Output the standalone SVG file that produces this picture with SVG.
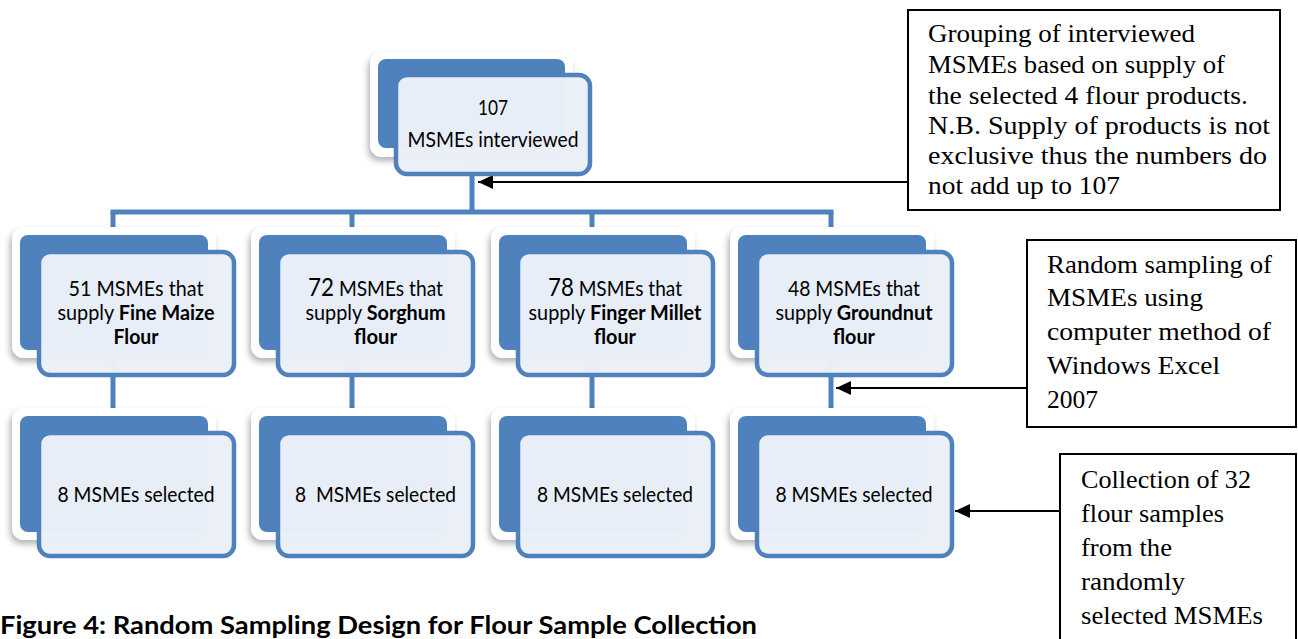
<svg xmlns="http://www.w3.org/2000/svg" width="1298" height="639" viewBox="0 0 1298 639">
<style>
  .outer{fill:#fff;filter:url(#sh)}
  .back{fill:#4F81BD}
  .front{fill:#EBF0F8;fill-opacity:0.985;stroke:#4F81BD;stroke-width:4.5}
  .conn{fill:none;stroke:#4F81BD;stroke-width:5}
  .arr{fill:none;stroke:#000;stroke-width:2;marker-end:url(#ah)}
  .sans{font-family:Lato,"Liberation Sans",sans-serif;font-size:21px;fill:#000;text-anchor:middle}
  .big{font-size:24.5px}
  .b{font-weight:bold}
  .note{fill:#fff;stroke:#000;stroke-width:2}
  .serif{font-family:"Liberation Serif","DejaVu Serif",serif;font-size:26px;fill:#000}
  .cap{font-family:Lato,"Liberation Sans",sans-serif;font-size:24px;font-weight:bold;fill:#000}
</style>
<defs>
  <filter id="sh" x="-20%" y="-20%" width="140%" height="150%">
    <feDropShadow dx="-2" dy="4" stdDeviation="3" flood-color="#000" flood-opacity="0.3"/>
  </filter>
  <marker id="ah" markerUnits="userSpaceOnUse" markerWidth="16" markerHeight="14" refX="15" refY="7" orient="auto">
    <path d="M0,0 L15,7 L0,14 Z" fill="#000"/>
  </marker>
</defs>
<rect width="1298" height="639" fill="#fff"/>

<g id="connectors">
  <path class="conn" d="M472,150 V212"/>
  <path class="conn" d="M110.5,212 H833.5"/>
  <path class="conn" d="M113,212 V232 M352,212 V232 M592,212 V232 M831,212 V232"/>
  <path class="conn" d="M113,350 V412 M352,350 V412 M592,350 V412 M831,350 V412"/>
  <path class="arr" d="M907,182 H478"/>
  <path class="arr" d="M1026,388 H836"/>
  <path class="arr" d="M1059,511 H955"/>
</g>

<g id="n0">
  <rect class="outer" x="370" y="52" width="203" height="105" rx="12"/>
  <rect class="back" x="378" y="59" width="187" height="89" rx="8"/>
  <rect class="front" x="396" y="75" width="194" height="99" rx="11"/>
  <text class="sans" x="493" y="115" textLength="30" lengthAdjust="spacingAndGlyphs">107</text>
  <text class="sans" x="493" y="147" textLength="171" lengthAdjust="spacingAndGlyphs">MSMEs interviewed</text>
</g>

<g id="n1">
  <rect class="outer" x="12" y="227" width="204" height="131" rx="12"/>
  <rect class="back" x="20" y="235" width="188" height="115" rx="8"/>
  <rect class="front" x="39" y="252" width="195" height="123" rx="11"/>
  <text class="sans" x="136" y="296" textLength="135" lengthAdjust="spacingAndGlyphs">51 MSMEs that</text>
  <text class="sans" x="136" y="320" textLength="157" lengthAdjust="spacingAndGlyphs">supply <tspan class="b">Fine Maize</tspan></text>
  <text class="sans b" x="136" y="344" textLength="45" lengthAdjust="spacingAndGlyphs">Flour</text>
</g>
<g id="n2">
  <rect class="outer" x="251" y="227" width="204" height="131" rx="12"/>
  <rect class="back" x="259" y="235" width="188" height="115" rx="8"/>
  <rect class="front" x="278" y="252" width="195" height="123" rx="11"/>
  <text class="sans" x="375.5" y="296" textLength="135" lengthAdjust="spacingAndGlyphs"><tspan class="big">72</tspan> MSMEs that</text>
  <text class="sans" x="375.5" y="320" textLength="140" lengthAdjust="spacingAndGlyphs">supply <tspan class="b">Sorghum</tspan></text>
  <text class="sans b" x="375.5" y="344" textLength="43" lengthAdjust="spacingAndGlyphs">flour</text>
</g>
<g id="n3">
  <rect class="outer" x="491" y="227" width="204" height="131" rx="12"/>
  <rect class="back" x="499" y="235" width="188" height="115" rx="8"/>
  <rect class="front" x="518" y="252" width="195" height="123" rx="11"/>
  <text class="sans" x="615" y="296" textLength="134" lengthAdjust="spacingAndGlyphs"><tspan class="big">78</tspan> MSMEs that</text>
  <text class="sans" x="615" y="320" textLength="173" lengthAdjust="spacingAndGlyphs">supply <tspan class="b">Finger Millet</tspan></text>
  <text class="sans b" x="615" y="344" textLength="42" lengthAdjust="spacingAndGlyphs">flour</text>
</g>
<g id="n4">
  <rect class="outer" x="730" y="227" width="204" height="131" rx="12"/>
  <rect class="back" x="738" y="235" width="188" height="115" rx="8"/>
  <rect class="front" x="757" y="252" width="195" height="123" rx="11"/>
  <text class="sans" x="854" y="296" textLength="132" lengthAdjust="spacingAndGlyphs">48 MSMEs that</text>
  <text class="sans" x="854" y="320" textLength="157" lengthAdjust="spacingAndGlyphs">supply <tspan class="b">Groundnut</tspan></text>
  <text class="sans b" x="854" y="344" textLength="42" lengthAdjust="spacingAndGlyphs">flour</text>
</g>

<g id="s1">
  <rect class="outer" x="12" y="408" width="204" height="132" rx="12"/>
  <rect class="back" x="20" y="416" width="188" height="116" rx="8"/>
  <rect class="front" x="39" y="433" width="195" height="123" rx="11"/>
  <text class="sans" x="136" y="502" textLength="157" lengthAdjust="spacingAndGlyphs">8 MSMEs selected</text>
</g>
<g id="s2">
  <rect class="outer" x="251" y="408" width="204" height="132" rx="12"/>
  <rect class="back" x="259" y="416" width="188" height="116" rx="8"/>
  <rect class="front" x="278" y="433" width="195" height="123" rx="11"/>
  <text class="sans" x="375.5" y="502" textLength="161" lengthAdjust="spacingAndGlyphs">8&#160; MSMEs selected</text>
</g>
<g id="s3">
  <rect class="outer" x="491" y="408" width="204" height="132" rx="12"/>
  <rect class="back" x="499" y="416" width="188" height="116" rx="8"/>
  <rect class="front" x="518" y="433" width="195" height="123" rx="11"/>
  <text class="sans" x="615" y="502" textLength="156" lengthAdjust="spacingAndGlyphs">8 MSMEs selected</text>
</g>
<g id="s4">
  <rect class="outer" x="730" y="408" width="204" height="132" rx="12"/>
  <rect class="back" x="738" y="416" width="188" height="116" rx="8"/>
  <rect class="front" x="757" y="433" width="195" height="123" rx="11"/>
  <text class="sans" x="854" y="502" textLength="157" lengthAdjust="spacingAndGlyphs">8 MSMEs selected</text>
</g>

<g id="note1">
  <rect class="note" x="908" y="10" width="372" height="200"/>
  <text class="serif" x="928" y="42" textLength="267" lengthAdjust="spacingAndGlyphs">Grouping of interviewed</text>
  <text class="serif" x="928" y="73" textLength="297" lengthAdjust="spacingAndGlyphs">MSMEs based on supply of</text>
  <text class="serif" x="928" y="104" textLength="320" lengthAdjust="spacingAndGlyphs">the selected 4 flour products.</text>
  <text class="serif" x="928" y="134" textLength="342" lengthAdjust="spacingAndGlyphs">N.B. Supply of products is not</text>
  <text class="serif" x="928" y="164" textLength="339" lengthAdjust="spacingAndGlyphs">exclusive thus the numbers do</text>
  <text class="serif" x="928" y="194" textLength="192" lengthAdjust="spacingAndGlyphs">not add up to 107</text>
</g>
<g id="note2">
  <rect class="note" x="1027" y="240" width="269" height="187"/>
  <text class="serif" x="1047" y="273" textLength="225" lengthAdjust="spacingAndGlyphs">Random sampling of</text>
  <text class="serif" x="1047" y="306" textLength="156" lengthAdjust="spacingAndGlyphs">MSMEs using</text>
  <text class="serif" x="1047" y="340" textLength="224" lengthAdjust="spacingAndGlyphs">computer method of</text>
  <text class="serif" x="1047" y="374" textLength="173" lengthAdjust="spacingAndGlyphs">Windows Excel</text>
  <text class="serif" x="1047" y="408" textLength="51" lengthAdjust="spacingAndGlyphs">2007</text>
</g>
<g id="note3">
  <rect class="note" x="1060" y="454" width="236" height="200"/>
  <text class="serif" x="1081" y="488" textLength="170" lengthAdjust="spacingAndGlyphs">Collection of 32</text>
  <text class="serif" x="1081" y="522" textLength="143" lengthAdjust="spacingAndGlyphs">flour samples</text>
  <text class="serif" x="1081" y="556" textLength="91" lengthAdjust="spacingAndGlyphs">from the</text>
  <text class="serif" x="1081" y="590" textLength="104" lengthAdjust="spacingAndGlyphs">randomly</text>
  <text class="serif" x="1081" y="624" textLength="182" lengthAdjust="spacingAndGlyphs">selected MSMEs</text>
</g>

<text class="cap" x="0" y="634" textLength="757" lengthAdjust="spacingAndGlyphs">Figure 4: Random Sampling Design for Flour Sample Collection</text>
</svg>
